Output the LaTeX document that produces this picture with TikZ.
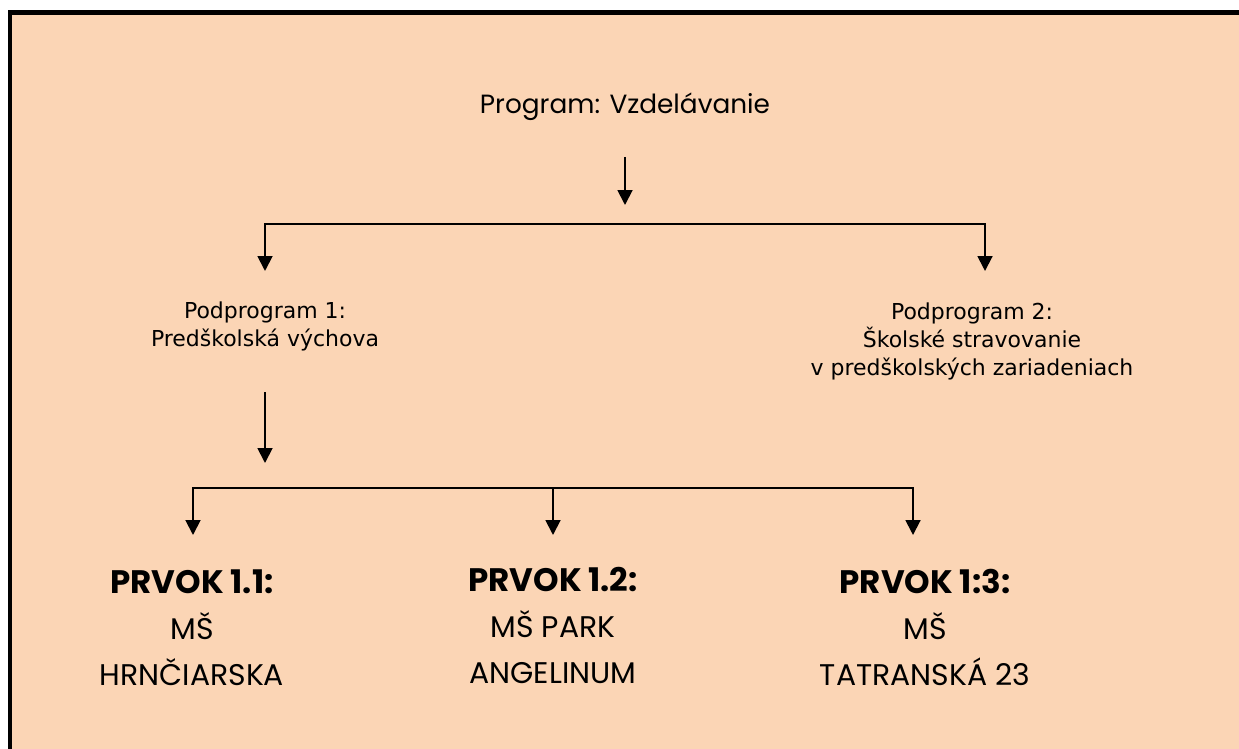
\documentclass[tikz,border=0pt]{standalone}
\usepackage{fontspec}
\setmainfont{Poppins}
\newfontfamily\verdanafont{DejaVu Sans}
\usetikzlibrary{arrows.meta}
\definecolor{peach}{HTML}{FBD5B5}

\begin{document}
\begin{tikzpicture}[x=0.02cm,y=-0.02cm,
  every node/.style={inner sep=0pt},
  conn/.style={line width=1.1pt,-{Triangle[width=8.5pt,length=8.5pt]}},
  connboth/.style={line width=1.1pt,{Triangle[width=8.5pt,length=8.5pt]}-{Triangle[width=8.5pt,length=8.5pt]}},
  topfont/.style={font=\fontsize{15}{18}\selectfont,anchor=base},
  subfont/.style={font=\verdanafont\fontsize{12.5}{16}\selectfont,align=center,anchor=base},
  elfont/.style={font=\fontsize{17}{26}\selectfont,align=center,anchor=base}]
\useasboundingbox (0,0) rectangle (1239,749);
%% page and frame
\fill[peach] (8,10) rectangle (1239,749);
\draw[line width=2.5pt] (10,749) -- (10,12.5) -- (1239,12.5);
%% program and the two sub-programs (base = last line)
\node[topfont] (prog) at (625,114) {Program: Vzdelávanie};
\node[subfont] (pp1) at (265,347) {Podprogram 1:\\Predškolská výchova};
\node[subfont] (pp2) at (972,376) {Podprogram 2:\\Školské stravovanie\\v predškolských zariadeniach};
\coordinate (t0) at (625,157); \coordinate (t1) at (625,205);
\coordinate (bl) at (265,224); \coordinate (br) at (985,224);
\coordinate (al) at (265,271); \coordinate (ar) at (985,271);
\draw[conn] (t0) -- (t1);
\draw[connboth] (al) -- (bl) -- (br) -- (ar);
%% elements of sub-program 1
\node[elfont] (e1) at (192,685) {{\fontsize{18.5}{26}\selectfont\bfseries PRVOK 1.1:}\\MŠ\\HRNČIARSKA};
\node[elfont] (e2) at (553,683) {{\fontsize{18.5}{26}\selectfont\bfseries PRVOK 1.2:}\\MŠ PARK\\ANGELINUM};
\node[elfont] (e3) at (925,685) {{\fontsize{18.5}{26}\selectfont\bfseries PRVOK 1:3:}\\MŠ\\TATRANSKÁ 23};
\coordinate (s0) at (265,392); \coordinate (s1) at (265,463);
\draw[conn] (s0) -- (s1);
%% bus and arrows drawn with a loop
\foreach \i/\x in {1/193,2/553,3/913}{
  \coordinate (b\i) at (\x,488); \coordinate (c\i) at (\x,535);
}
\draw[connboth] (c1) -- (b1) -- (b3) -- (c3);
\draw[conn] (b2) -- (c2);
\end{tikzpicture}
\end{document}
